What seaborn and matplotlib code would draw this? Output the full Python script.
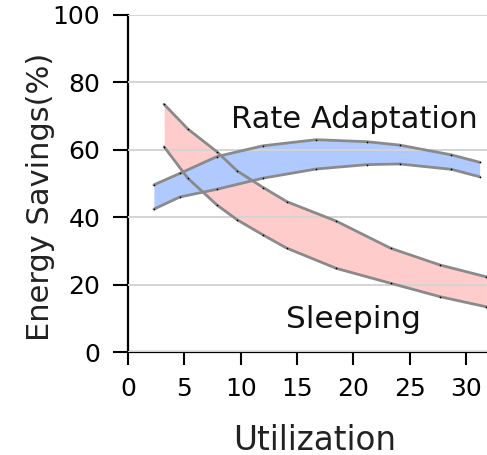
import numpy as np
import pandas as pd
import seaborn as sns
import matplotlib.pyplot as plt

# values
rate_x = [2.3, 4.6, 7.9, 12.0, 16.7, 21.2, 24.1, 28.7, 31.2]
rate_hi = [49.6, 53.0, 58.0, 61.2, 63.0, 62.4, 61.4, 58.5, 56.3]
rate_lo = [42.4, 46.0, 48.3, 51.6, 54.3, 55.6, 55.8, 54.2, 52.0]

sleep_x = [3.2, 5.3, 7.9, 9.7, 12.0, 14.1, 18.5, 23.3, 27.7, 31.8]
sleep_hi = [73.5, 66.2, 59.4, 53.7, 48.8, 44.6, 38.8, 30.8, 25.8, 22.3]
sleep_lo = [60.9, 51.6, 43.6, 39.2, 34.7, 30.8, 24.8, 20.4, 16.4, 13.4]

x_ticks = [0, 5, 10, 15, 20, 25, 30]
y_ticks = [0, 20, 40, 60, 80, 100]

sns.set_theme(style="white")
plt.rcParams['font.family'] = ['DejaVu Sans']

fig = plt.figure(figsize=(4.87, 4.55), dpi=100)
ax = fig.add_axes([128 / 487, 1 - 352 / 455, 1 - 128 / 487, (352 - 15) / 455])

rate = pd.DataFrame({'x': rate_x, 'hi': rate_hi, 'lo': rate_lo})
sleep = pd.DataFrame({'x': sleep_x, 'hi': sleep_hi, 'lo': sleep_lo})

ax.fill_between(sleep['x'], sleep['lo'], sleep['hi'], color='#ffcccc', lw=0, zorder=1)
ax.fill_between(rate['x'], rate['lo'], rate['hi'], color='#b0caff', lw=0, zorder=1.1)

edge = dict(color='#8a8a8a', linewidth=2.0, zorder=3, legend=False)
for df in (sleep, rate):
    for col in ('hi', 'lo'):
        sns.lineplot(data=df, x='x', y=col, ax=ax, **edge)
        ax.scatter(df['x'], df[col], s=1.5, color='black', zorder=4, lw=0)

ax.set_xlim(0, (487 - 128) / 11.27)
ax.set_ylim(0, 100)
ax.set_xticks(x_ticks)
ax.set_yticks(y_ticks)
ax.set_axisbelow(False)
ax.yaxis.grid(True, color='#d4d4d4', linewidth=1.4)
ax.xaxis.grid(False)

for s in ('top', 'right'):
    ax.spines[s].set_visible(False)
for s in ('left', 'bottom'):
    ax.spines[s].set_color('black')
    ax.spines[s].set_linewidth(1.6)

ax.tick_params(axis='y', which='major', direction='out', length=11, width=1.5,
               color='black', labelsize=18, pad=9, left=True)
ax.tick_params(axis='x', which='major', direction='out', length=9, width=1.5,
               color='black', labelsize=18, pad=9, bottom=True)
for lbl in ax.get_xticklabels() + ax.get_yticklabels():
    lbl.set_color('black')

ax.set_xlabel('')
ax.set_ylabel('')
fig.text(315 / 487, 1 - 440 / 455, 'Utilization', ha='center', va='center',
         fontsize=23.5, color='#222222')
fig.text(41 / 487, 1 - 197 / 455, 'Energy Savings(%)', ha='center', va='center',
         rotation=90, fontsize=22, color='#222222')

ax.text(20.05, 66.5, 'Rate Adaptation', ha='center', va='baseline',
        fontsize=22, color='#111111', zorder=5)
ax.text(20.05, 7.2, 'Sleeping', ha='center', va='baseline',
        fontsize=22.5, color='#111111', zorder=5)

fig.savefig('out.png', dpi=100)
